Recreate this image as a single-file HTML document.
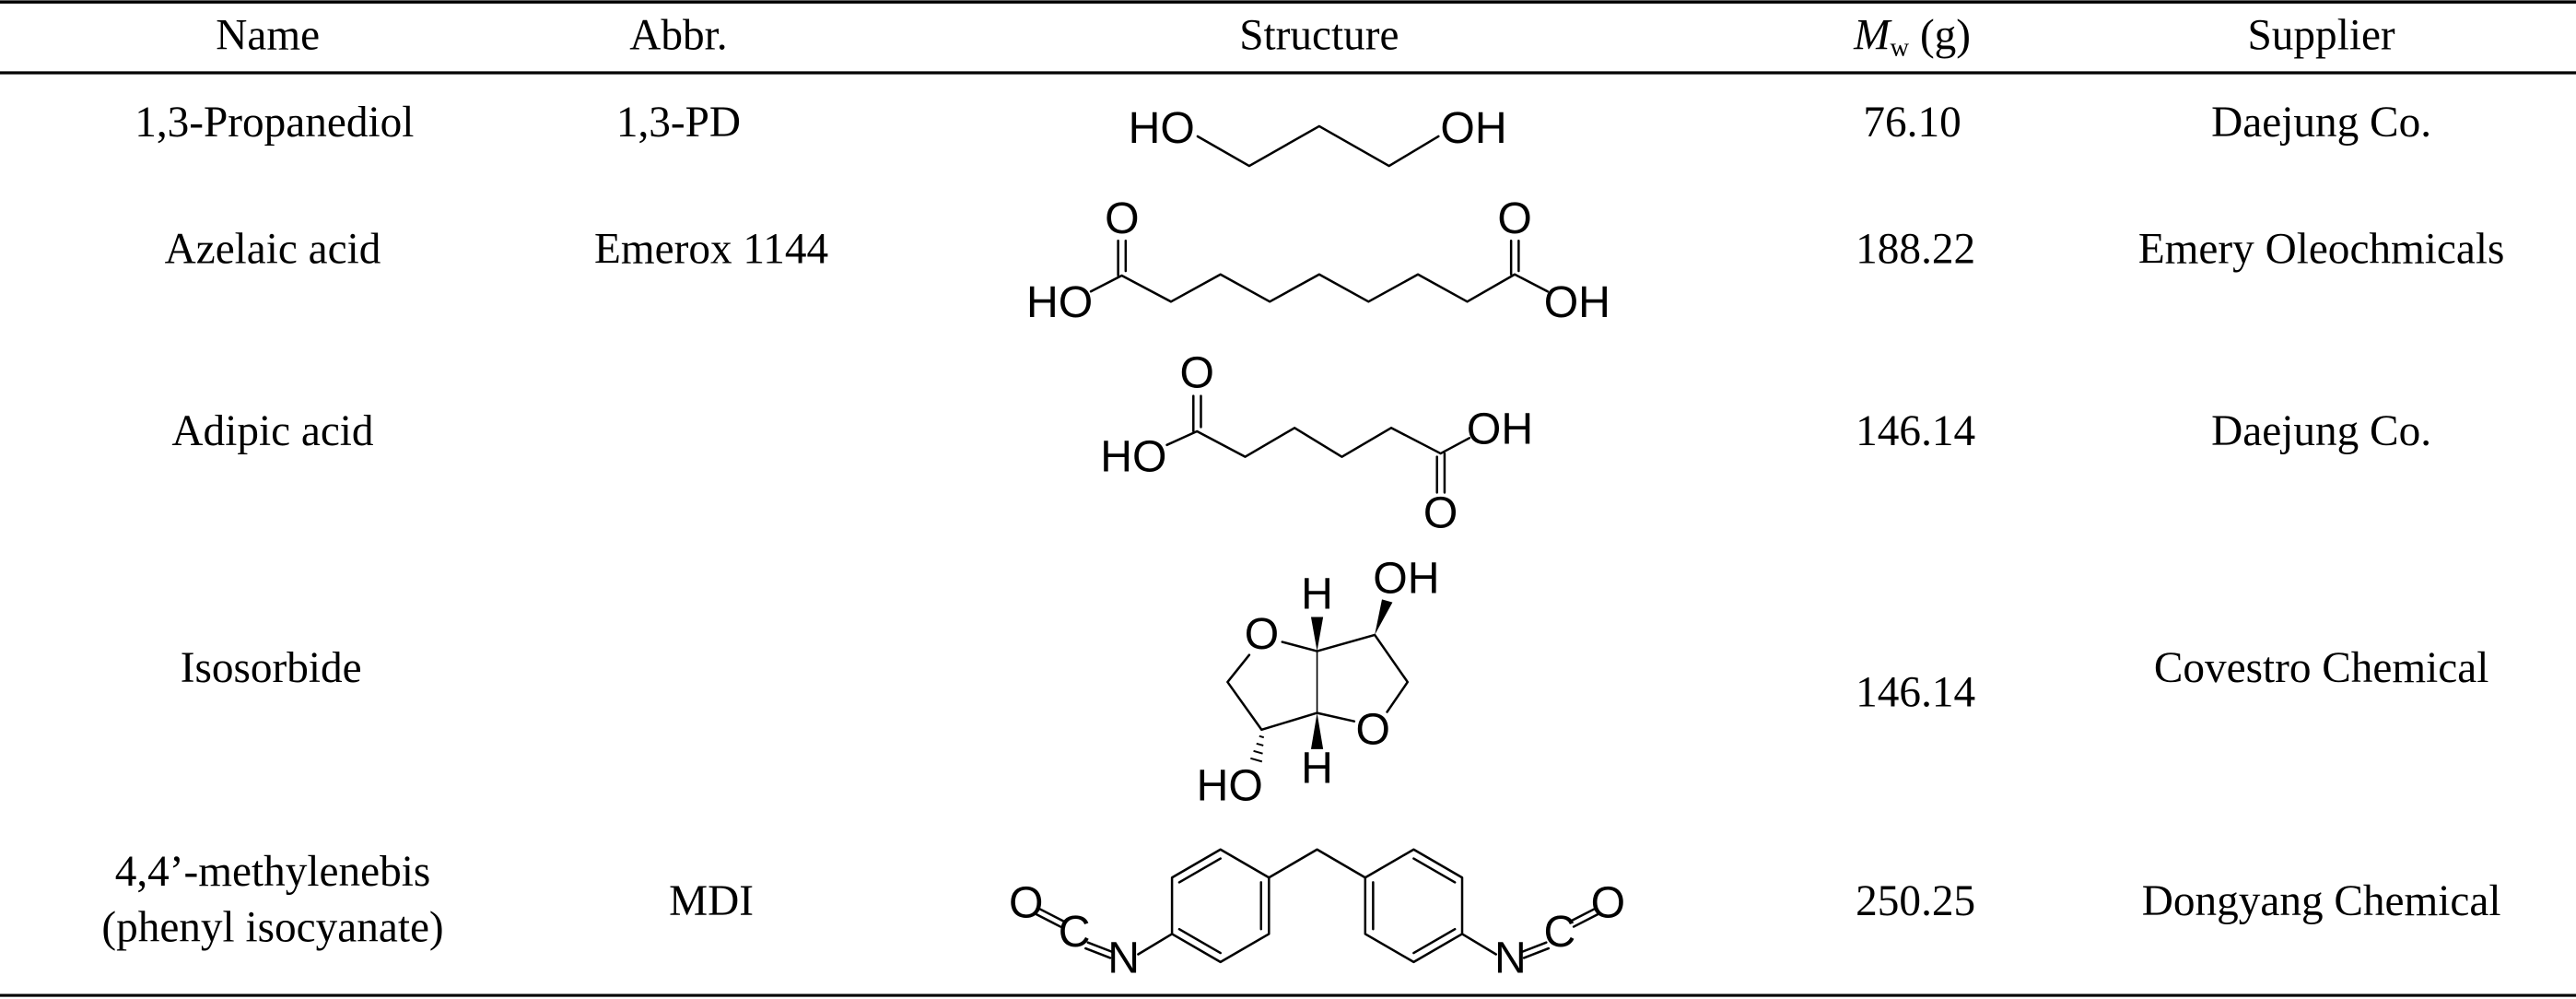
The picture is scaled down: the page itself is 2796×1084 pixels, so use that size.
<!DOCTYPE html>
<html><head><meta charset="utf-8"><style>
html,body{margin:0;padding:0;background:#fff;}
svg{display:block;}
.t{font-family:"Liberation Serif",serif;font-size:26.5px;fill:#000;text-anchor:middle;}
.c{font-family:"Liberation Sans",sans-serif;font-size:27px;fill:#000;text-anchor:middle;}
.b{stroke:#000;stroke-width:1.4;fill:none;stroke-linecap:round;stroke-linejoin:round;}
</style></head><body>
<svg width="2796" height="1084" viewBox="0 0 1568 608" preserveAspectRatio="none" xmlns="http://www.w3.org/2000/svg">
<rect width="1568" height="608" fill="#fff"/>
<line x1="0" y1="1.2" x2="1568" y2="1.2" stroke="#000" stroke-width="2"/>
<line x1="0" y1="44.3" x2="1568" y2="44.3" stroke="#000" stroke-width="1.8"/>
<line x1="0" y1="605.8" x2="1568" y2="605.8" stroke="#000" stroke-width="1.8"/>

<text class="t" x="163" y="30">Name</text>
<text class="t" x="413" y="30">Abbr.</text>
<text class="t" x="803" y="30">Structure</text>
<text class="t" x="1164" y="30"><tspan font-style="italic">M</tspan><tspan font-size="16" dy="4">w</tspan><tspan dy="-4"> (g)</tspan></text>
<text class="t" x="1413" y="30">Supplier</text>

<text class="t" x="167" y="83">1,3-Propanediol</text>
<text class="t" x="413" y="83">1,3-PD</text>
<text class="t" x="1164" y="83">76.10</text>
<text class="t" x="1413" y="83">Daejung Co.</text>

<text class="t" x="166" y="160">Azelaic acid</text>
<text class="t" x="433" y="160">Emerox 1144</text>
<text class="t" x="1166" y="160">188.22</text>
<text class="t" x="1413" y="160">Emery Oleochmicals</text>

<text class="t" x="166" y="271">Adipic acid</text>
<text class="t" x="1166" y="271">146.14</text>
<text class="t" x="1413" y="271">Daejung Co.</text>

<text class="t" x="165" y="415">Isosorbide</text>
<text class="t" x="1166" y="430">146.14</text>
<text class="t" x="1413" y="415">Covestro Chemical</text>

<text class="t" x="166" y="539">4,4’-methylenebis</text>
<text class="t" x="166" y="573">(phenyl isocyanate)</text>
<text class="t" x="433" y="557">MDI</text>
<text class="t" x="1166" y="557">250.25</text>
<text class="t" x="1413" y="557">Dongyang Chemical</text>

<!-- 1,3-PD -->
<text class="c" x="707" y="87">HO</text>
<text class="c" x="897" y="87">OH</text>
<polyline class="b" points="729,83 760.4,101 803,76.8 845.5,101 875.6,83"/>

<!-- Azelaic -->
<text class="c" x="645" y="193" font-size="23">HO</text>
<text class="c" x="960" y="193" font-size="23">OH</text>
<text class="c" x="683" y="142" font-size="23">O</text>
<text class="c" x="922" y="142" font-size="23">O</text>
<polyline class="b" points="664,177.4 682.8,167.7 712.8,183.6 742.9,167 772.9,183.6 803,167 833,183.6 863.1,167 893.1,183.6 922,167 942,177.4"/>
<line class="b" x1="680.6" y1="146.5" x2="680.6" y2="167.7"/>
<line class="b" x1="685.2" y1="146.5" x2="685.2" y2="165"/>
<line class="b" x1="919.8" y1="146.5" x2="919.8" y2="167"/>
<line class="b" x1="924.4" y1="146.5" x2="924.4" y2="165"/>

<!-- Adipic -->
<text class="c" x="690" y="287" font-size="23">HO</text>
<text class="c" x="913" y="270" font-size="23">OH</text>
<text class="c" x="728.6" y="236" font-size="23">O</text>
<text class="c" x="876.9" y="321" font-size="23">O</text>
<polyline class="b" points="710.3,270.8 728.6,262.5 757.9,278 788,260.4 816.8,278 846.8,260.4 876.9,276 894.4,266.6"/>
<line class="b" x1="726.4" y1="241" x2="726.4" y2="262.5"/>
<line class="b" x1="731" y1="241" x2="731" y2="260"/>
<line class="b" x1="874.7" y1="278" x2="874.7" y2="299.8"/>
<line class="b" x1="879.3" y1="276" x2="879.3" y2="299.8"/>

<!-- Isosorbide -->
<text class="c" x="768" y="395" font-size="23">O</text>
<text class="c" x="835.7" y="453" font-size="23">O</text>
<text class="c" x="801.7" y="370.4" font-size="23">H</text>
<text class="c" x="801.7" y="476.6" font-size="23">H</text>
<text class="c" x="856" y="361" font-size="23">OH</text>
<text class="c" x="748.5" y="487" font-size="23">HO</text>
<polyline class="b" points="780.5,390.7 801.7,396.3 836.8,386.4 856.8,415.1 844.3,433.3"/>
<polyline class="b" points="760.4,398.6 747.2,415.1 767.9,444.1 801.7,433.9 824.3,439"/>
<line x1="801.7" y1="396.3" x2="801.7" y2="433.9" stroke="#000" stroke-width="0.9"/>
<polygon points="801.7,396.3 798,375.5 805.4,375.5" fill="#000"/>
<polygon points="801.7,433.9 798,455.9 805.4,455.9" fill="#000"/>
<polygon points="836.8,386.4 841.2,364.8 847.6,366.6" fill="#000"/>
<g stroke="#000" stroke-width="1.1">
<line x1="766.5" y1="448" x2="769.3" y2="448.8"/>
<line x1="764.8" y1="452.5" x2="769" y2="453.7"/>
<line x1="763" y1="457" x2="768.6" y2="458.6"/>
<line x1="761.2" y1="461.5" x2="768.2" y2="463.5"/>
</g>

<!-- MDI -->
<polygon class="b" points="742.9,517 772.4,534.1 772.4,568.4 742.9,585.5 713.4,568.4 713.4,534.1"/>
<line class="b" x1="717.8" y1="537" x2="742.9" y2="522.5"/>
<line class="b" x1="767.6" y1="537" x2="767.6" y2="565.5"/>
<line class="b" x1="717.8" y1="565.5" x2="742.9" y2="580"/>
<polygon class="b" points="860.5,517 890,534.1 890,568.4 860.5,585.5 831,568.4 831,534.1"/>
<line class="b" x1="885.6" y1="537" x2="860.5" y2="522.5"/>
<line class="b" x1="835.8" y1="537" x2="835.8" y2="565.5"/>
<line class="b" x1="885.6" y1="565.5" x2="860.5" y2="580"/>
<polyline class="b" points="772.4,534.1 801.7,517 831,534.1"/>
<line class="b" x1="713.4" y1="568.4" x2="692.8" y2="580.8"/>
<line class="b" x1="890" y1="568.4" x2="910.6" y2="580.8"/>
<text class="c" x="684" y="592" font-size="22">N</text>
<text class="c" x="654" y="576" font-size="22">C</text>
<text class="c" x="624.6" y="558.3" font-size="22">O</text>
<text class="c" x="919.4" y="592" font-size="22">N</text>
<text class="c" x="949.4" y="576" font-size="22">C</text>
<text class="c" x="978.8" y="558.3" font-size="22">O</text>
<g class="b">
<line x1="662.2" y1="573.6" x2="677.2" y2="579.4"/>
<line x1="660.8" y1="577.2" x2="675.8" y2="583"/>
<line x1="632.5" y1="553" x2="647.3" y2="560.6"/>
<line x1="630.7" y1="556.4" x2="645.5" y2="564"/>
<line x1="941.2" y1="573.6" x2="926.2" y2="579.4"/>
<line x1="942.6" y1="577.2" x2="927.6" y2="583"/>
<line x1="970.9" y1="553" x2="956.1" y2="560.6"/>
<line x1="972.7" y1="556.4" x2="957.9" y2="564"/>
</g>
</svg>
</body></html>
